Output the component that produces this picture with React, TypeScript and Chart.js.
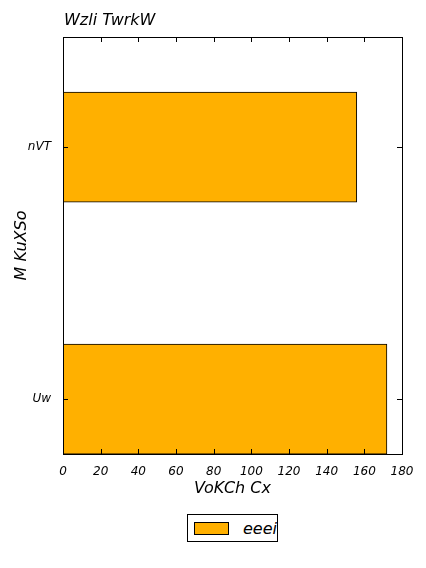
import { useRef, useEffect } from "react";
import { Chart, registerables } from "chart.js";

Chart.register(...registerables);

const categories = ["Uw", "nVT"];
const values = [172, 156];
const seriesName = "eeei";
const chartTitle = "Wzli TwrkW";
const xTitle = "VoKCh Cx";
const yTitle = "M KuXSo";
const barColor = "#ffb000";
const font = "DejaVu Sans";

// frame, inward tick marks and the title, the way the reference draws them
const framePlugin = {
  id: "frame",
  afterDraw(chart: Chart) {
    const { ctx, chartArea: a } = chart;
    const x = chart.scales.x;
    const y = chart.scales.y;
    ctx.save();
    ctx.strokeStyle = "#000";
    ctx.lineWidth = 1;
    ctx.strokeRect(a.left + 0.5, a.top + 0.5, a.right - a.left, a.bottom - a.top);
    ctx.beginPath();
    x.ticks.forEach((_, i) => {
      const px = Math.round(x.getPixelForTick(i)) + 0.5;
      ctx.moveTo(px, a.bottom);
      ctx.lineTo(px, a.bottom - 5);
      ctx.moveTo(px, a.top);
      ctx.lineTo(px, a.top + 5);
    });
    y.ticks.forEach((_, i) => {
      const py = Math.round(y.getPixelForTick(i)) + 0.5;
      ctx.moveTo(a.left, py);
      ctx.lineTo(a.left + 5, py);
      ctx.moveTo(a.right, py);
      ctx.lineTo(a.right - 5, py);
    });
    ctx.stroke();
    ctx.fillStyle = "#000";
    ctx.font = `italic 16px "${font}"`;
    ctx.textBaseline = "alphabetic";
    ctx.fillText(chartTitle, a.left + 1, 25);
    ctx.restore();
  },
};

export default function App() {
  const canvasRef = useRef<HTMLCanvasElement | null>(null);

  useEffect(() => {
    document.body.style.margin = "0";
    if (!canvasRef.current) return;
    const chart = new Chart(canvasRef.current, {
      type: "bar",
      data: {
        datasets: [
          {
            label: seriesName,
            data: values.map((v, i) => ({ x: v, y: i })),
            backgroundColor: barColor,
            borderColor: "#000",
            borderWidth: 1,
            borderSkipped: false,
            barThickness: 110,
          },
        ],
      },
      options: {
        indexAxis: "y",
        animation: false,
        responsive: false,
        layout: { padding: { top: 37, right: 24, left: 0, bottom: 0 } },
        plugins: { legend: { display: false }, title: { display: false }, tooltip: { enabled: false } },
        scales: {
          x: {
            type: "linear",
            min: 0,
            max: 180,
            ticks: { stepSize: 20, color: "#000", font: { family: font, style: "italic", size: 12 }, padding: 3 },
            grid: { display: false },
            border: { display: false },
            title: { display: true, text: xTitle, color: "#000", font: { family: font, style: "italic", size: 16 }, padding: 2 },
            afterFit: (s: any) => { s.height = 46; },
          },
          y: {
            type: "linear",
            min: -0.218,
            max: 1.437,
            offset: false,
            afterBuildTicks: (s: any) => { s.ticks = categories.map((_, i) => ({ value: i })); },
            ticks: {
              color: "#000",
              font: { family: font, style: "italic", size: 12 },
              padding: 4,
              callback: (v: any) => categories[v] ?? "",
            },
            grid: { display: false },
            border: { display: false },
            title: { display: true, text: yTitle, color: "#000", font: { family: font, style: "italic", size: 16 }, padding: { top: 12, bottom: 4 } },
            afterFit: (s: any) => { s.width = 63; },
          },
        },
      },
      plugins: [framePlugin],
    });
    return () => chart.destroy();
  }, []);

  return (
    <div style={{ width: 426, height: 568, position: "relative", background: "#fff" }}>
      <canvas ref={canvasRef} width={426} height={500} style={{ display: "block" }} />
      <div
        style={{
          position: "absolute",
          left: 187,
          top: 514,
          width: 91,
          height: 28,
          border: "1px solid #000",
          display: "flex",
          alignItems: "center",
          fontFamily: font,
          fontStyle: "italic",
          fontSize: 16,
          boxSizing: "border-box",
        }}
      >
        <span style={{ display: "inline-block", width: 33, height: 11, background: barColor, border: "1px solid #000", marginLeft: 6, marginRight: 14 }} />
        {seriesName}
      </div>
    </div>
  );
}
